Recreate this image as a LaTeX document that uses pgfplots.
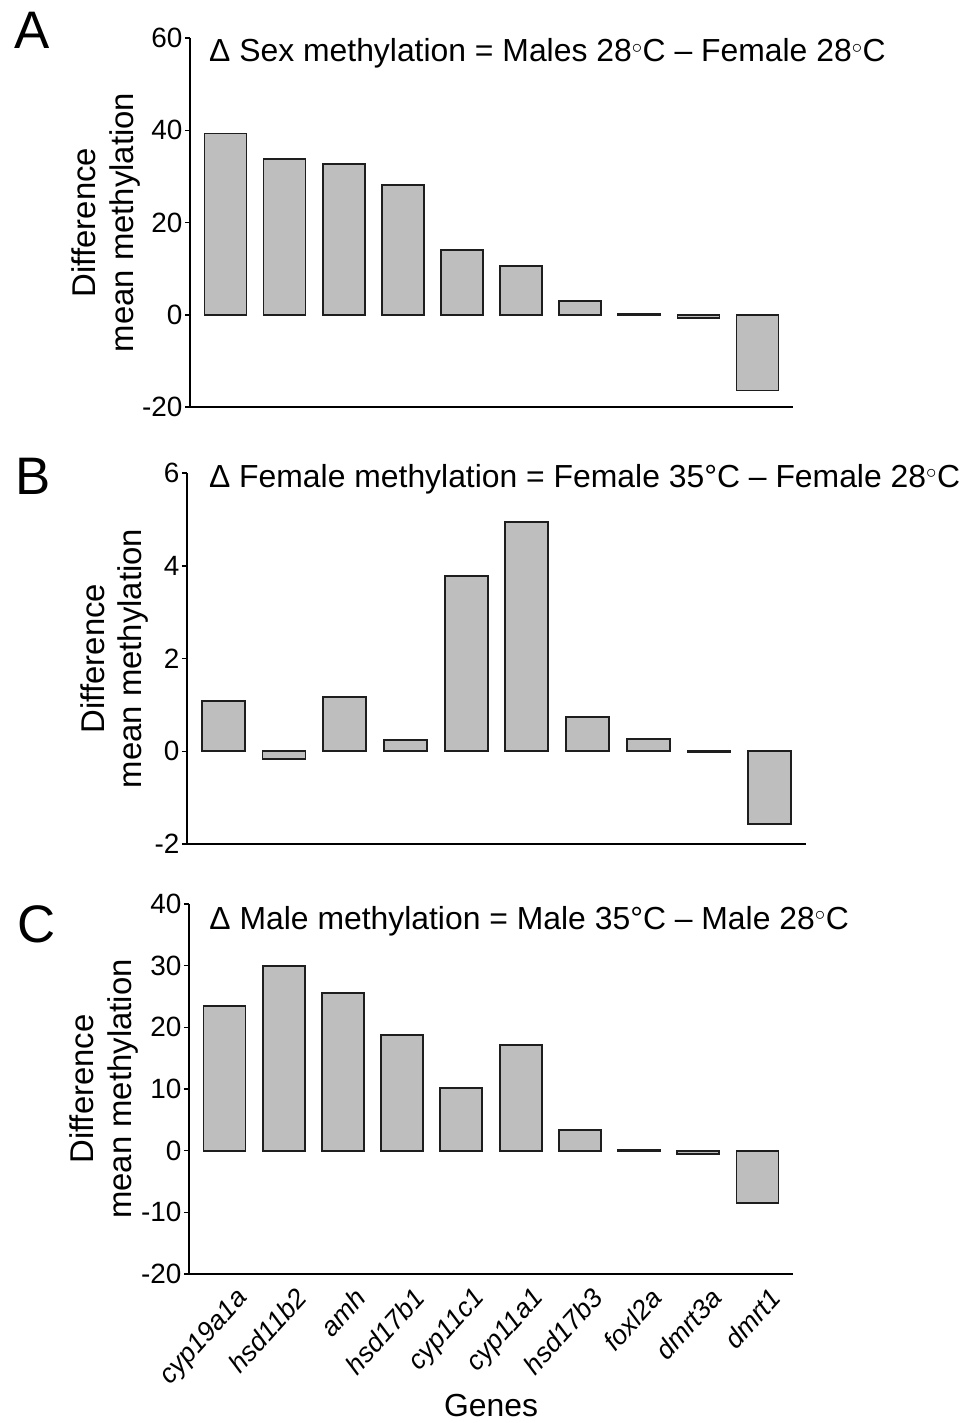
\documentclass[border=0pt]{standalone}
\usepackage{pgfplots}
\pgfplotsset{compat=1.18}
\usepackage{fontspec}
\setmainfont{Liberation Sans}

\definecolor{barfill}{HTML}{BEBEBE}
\definecolor{barline}{HTML}{1E1E1E}

\pgfplotsset{
  panel/.style={
    scale only axis,
    clip=false,
    axis lines=left,
    axis line style={-, line width=2.4bp, black},
    ybar, bar shift=0pt,
    xmin=-0.6, xmax=9.6,
    tick align=outside,
    major tick length=5bp,
    ytick style={line width=1.5bp, black},
    xtick style={draw=none},
    tick label style={font=\fontsize{28}{30}\selectfont},
    yticklabel style={xshift=1bp},
    /pgf/number format/assume math mode=true,
    ylabel={Difference\\mean methylation},
    ylabel style={font=\fontsize{33}{38}\selectfont, align=center, anchor=south},
  },
  bars/.style={fill=barfill, draw=barline, line width=1.8bp},
}

\newcommand{\ttl}{\fontsize{32}{36}\selectfont}
\newcommand{\pnl}{\fontsize{53}{56}\selectfont}

\begin{document}
\begin{tikzpicture}
\useasboundingbox (0,0) rectangle (966bp,-1423bp);

% A
\begin{axis}[panel,
  at={(190bp,-407bp)}, anchor=south west,
  width=603bp, height=369bp,
  ymin=-20, ymax=60, ytick={-20,0,20,40,60},
  xtick=\empty, bar width=42bp,
  ylabel style={at={(axis description cs:-0.077,0.5)}},
]
\addplot[bars] coordinates {(0,39.3) (1,33.8) (2,32.7) (3,28.1) (4,14.0) (5,10.6) (6,3.0) (7,0.1) (8,-0.7) (9,-16.4)};
\node[anchor=base west, font=\ttl] at (rel axis cs:0.026,0.935) {Δ Sex methylation = Males 28$^{\circ}$C – Female 28$^{\circ}$C};
\node[anchor=base west, font=\pnl] at (rel axis cs:-0.297,0.972) {A};
\end{axis}

% B
\begin{axis}[panel,
  at={(187bp,-844bp)}, anchor=south west,
  width=619bp, height=371bp,
  ymin=-2, ymax=6, ytick={-2,0,2,4,6},
  xtick=\empty, bar width=43bp,
  ylabel style={at={(axis description cs:-0.056,0.5)}},
]
\addplot[bars] coordinates {(0,1.09) (1,-0.17) (2,1.17) (3,0.25) (4,3.78) (5,4.94) (6,0.74) (7,0.27) (8,-0.02) (9,-1.57)};
\node[anchor=base west, font=\ttl] at (rel axis cs:0.030,0.962) {Δ Female methylation = Female 35°C – Female 28$^{\circ}$C};
\node[anchor=base west, font=\pnl] at (rel axis cs:-0.282,0.941) {B};
\end{axis}

% C
\begin{axis}[panel,
  at={(189bp,-1274bp)}, anchor=south west,
  width=604bp, height=370bp,
  ymin=-20, ymax=40, ytick={-20,-10,0,10,20,30,40},
  xtick={0,...,9},
  xticklabels={cyp19a1a,hsd11b2,amh,hsd17b1,cyp11c1,cyp11a1,hsd17b3,foxl2a,dmrt3a,dmrt1},
  x tick label style={font=\fontsize{27}{30}\selectfont\itshape, rotate=48, anchor=north east, xshift=5bp, yshift=-9bp},
  bar width=42bp,
  ylabel style={at={(axis description cs:-0.078,0.5)}},
  xlabel={Genes},
  xlabel style={font=\fontsize{32}{36}\selectfont, at={(axis description cs:0.5,-0.386)}, anchor=base},
]
\addplot[bars] coordinates {(0,23.5) (1,30.0) (2,25.6) (3,18.7) (4,10.2) (5,17.2) (6,3.3) (7,0.1) (8,-0.5) (9,-8.5)};
\node[anchor=base west, font=\ttl] at (rel axis cs:0.028,0.932) {Δ Male methylation = Male 35°C – Male 28$^{\circ}$C};
\node[anchor=base west, font=\pnl] at (rel axis cs:-0.29,0.895) {C};
\end{axis}
\end{tikzpicture}
\end{document}
